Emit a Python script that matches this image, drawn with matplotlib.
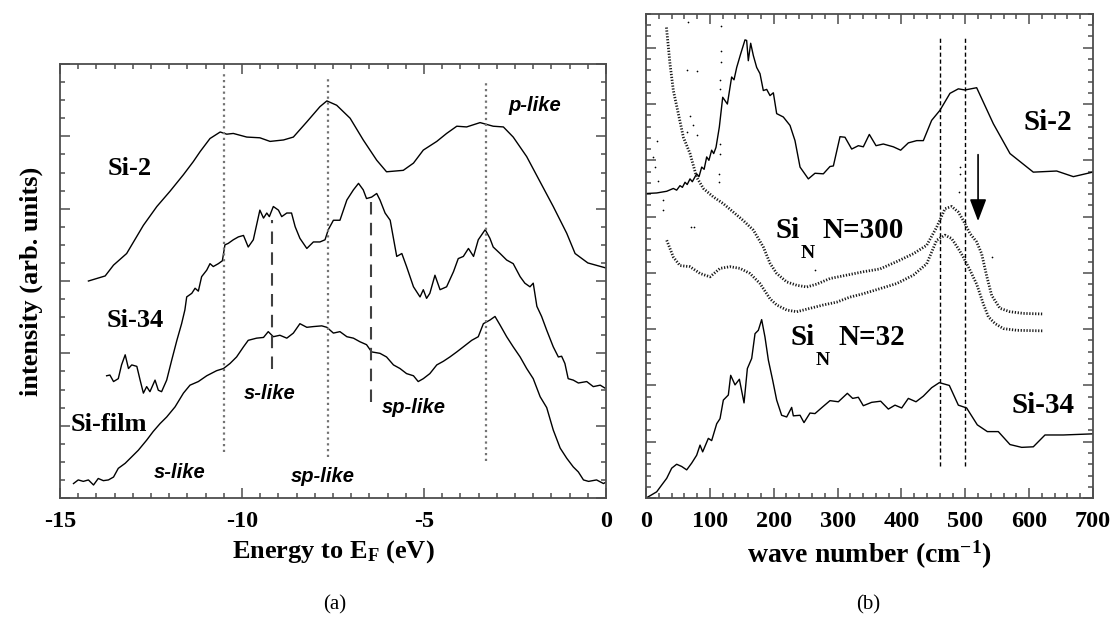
import numpy as np
import matplotlib
matplotlib.use("Agg")
import matplotlib.pyplot as plt
from matplotlib.ticker import MultipleLocator, NullFormatter

plt.rcParams["font.family"] = ["Liberation Serif", "DejaVu Serif"]
plt.rcParams["font.weight"] = "bold"
plt.rcParams["axes.unicode_minus"] = False
plt.rcParams["mathtext.fontset"] = "custom"
plt.rcParams["mathtext.rm"] = "Liberation Serif:bold"
plt.rcParams["mathtext.it"] = "Liberation Serif:bold"
plt.rcParams["mathtext.bf"] = "Liberation Serif:bold"

# ---------------- (a) photoemission spectra vs energy (eV) ----------------
si2_pts = [(-14.22, 3.00), (-13.76, 3.07), (-13.53, 3.22), (-13.17, 3.38), (-12.71, 3.77),
           (-12.34, 4.03), (-11.98, 4.24), (-11.61, 4.47), (-11.34, 4.65), (-11.15, 4.79),
           (-10.88, 4.97), (-10.60, 5.06), (-10.42, 5.03), (-10.24, 5.04), (-9.87, 4.99),
           (-9.51, 4.98), (-9.23, 4.93), (-8.86, 4.95), (-8.59, 4.99), (-8.22, 5.20),
           (-7.86, 5.41), (-7.67, 5.49), (-7.40, 5.43), (-7.03, 5.25), (-6.67, 4.95),
           (-6.30, 4.67), (-6.03, 4.51), (-5.57, 4.53), (-5.29, 4.63), (-5.02, 4.81),
           (-4.65, 4.93), (-4.38, 5.04), (-4.10, 5.14), (-3.83, 5.13), (-3.46, 5.19),
           (-3.10, 5.14), (-2.82, 5.13), (-2.55, 4.99), (-2.18, 4.72), (-1.81, 4.37),
           (-1.45, 4.03), (-1.08, 3.66), (-0.85, 3.38), (-0.50, 3.25), (0.0, 3.18)]

si34_pts = [(-13.72, 1.69), (-13.63, 1.70), (-13.53, 1.61), (-13.40, 1.65), (-13.31, 1.84),
            (-13.21, 1.98), (-13.12, 1.79), (-13.03, 1.84), (-12.89, 1.82), (-12.80, 1.63),
            (-12.71, 1.45), (-12.62, 1.54), (-12.53, 1.47), (-12.39, 1.63), (-12.30, 1.49),
            (-12.21, 1.47), (-12.07, 1.63), (-11.93, 1.91), (-11.79, 2.18), (-11.66, 2.41),
            (-11.57, 2.60), (-11.52, 2.78), (-11.38, 2.83), (-11.29, 2.90), (-11.20, 2.86),
            (-11.11, 3.06), (-10.97, 3.15), (-10.88, 3.24), (-10.79, 3.20), (-10.65, 3.24),
            (-10.54, 3.28), (-10.47, 3.50), (-10.38, 3.52), (-10.24, 3.57), (-10.10, 3.61),
            (-9.96, 3.63), (-9.83, 3.47), (-9.69, 3.57), (-9.51, 3.98), (-9.41, 3.87),
            (-9.32, 3.94), (-9.25, 3.89), (-9.14, 4.03), (-9.00, 3.98), (-8.91, 3.89),
            (-8.77, 3.94), (-8.64, 3.94), (-8.54, 3.75), (-8.41, 3.59), (-8.22, 3.45),
            (-8.04, 3.54), (-7.86, 3.54), (-7.72, 3.57), (-7.63, 3.71), (-7.49, 3.84),
            (-7.31, 3.84), (-7.12, 4.12), (-6.94, 4.26), (-6.80, 4.35), (-6.67, 4.26),
            (-6.58, 4.14), (-6.44, 4.16), (-6.30, 4.21), (-6.21, 4.12), (-6.07, 3.94),
            (-5.93, 3.84), (-5.75, 3.34), (-5.61, 3.38), (-5.48, 3.20), (-5.29, 2.92),
            (-5.11, 2.78), (-5.02, 2.88), (-4.93, 2.76), (-4.84, 2.83), (-4.70, 3.08),
            (-4.56, 2.88), (-4.38, 2.92), (-4.19, 3.13), (-4.06, 3.31), (-3.92, 3.34),
            (-3.78, 3.45), (-3.64, 3.34), (-3.51, 3.57), (-3.32, 3.71), (-3.19, 3.59),
            (-3.10, 3.47), (-2.91, 3.38), (-2.73, 3.29), (-2.55, 3.24), (-2.36, 3.06),
            (-2.23, 2.97), (-2.09, 2.92), (-2.00, 2.97), (-1.90, 2.65), (-1.77, 2.51),
            (-1.63, 2.32), (-1.45, 2.09), (-1.31, 1.95), (-1.22, 1.96), (-1.13, 1.86),
            (-1.04, 1.65), (-0.90, 1.63), (-0.76, 1.59), (-0.53, 1.61), (-0.35, 1.54),
            (-0.16, 1.56), (-0.03, 1.52)]

film_pts = [(-14.63, 0.20), (-14.50, 0.25), (-14.36, 0.23), (-14.22, 0.25), (-14.08, 0.18),
            (-13.95, 0.27), (-13.81, 0.24), (-13.67, 0.25), (-13.53, 0.29), (-13.40, 0.41),
            (-13.21, 0.48), (-13.03, 0.57), (-12.85, 0.66), (-12.62, 0.80), (-12.44, 0.92),
            (-12.25, 1.03), (-12.07, 1.12), (-11.84, 1.26), (-11.61, 1.45), (-11.43, 1.56),
            (-11.20, 1.61), (-10.97, 1.69), (-10.70, 1.76), (-10.51, 1.79), (-10.33, 1.86),
            (-10.15, 1.95), (-9.96, 2.09), (-9.83, 2.18), (-9.60, 2.21), (-9.41, 2.22),
            (-9.28, 2.30), (-9.14, 2.23), (-8.96, 2.25), (-8.77, 2.21), (-8.59, 2.28),
            (-8.41, 2.41), (-8.22, 2.36), (-8.04, 2.37), (-7.81, 2.38), (-7.67, 2.36),
            (-7.49, 2.28), (-7.31, 2.30), (-7.12, 2.23), (-6.94, 2.21), (-6.76, 2.16),
            (-6.58, 2.12), (-6.44, 2.02), (-6.21, 2.00), (-6.03, 1.95), (-5.84, 1.84),
            (-5.66, 1.79), (-5.48, 1.72), (-5.29, 1.69), (-5.16, 1.61), (-5.02, 1.65),
            (-4.84, 1.72), (-4.65, 1.84), (-4.47, 1.89), (-4.29, 1.95), (-4.10, 2.02),
            (-3.92, 2.09), (-3.69, 2.18), (-3.51, 2.23), (-3.37, 2.41), (-3.19, 2.46),
            (-3.05, 2.51), (-2.91, 2.39), (-2.73, 2.23), (-2.55, 2.09), (-2.36, 1.95),
            (-2.18, 1.79), (-2.00, 1.65), (-1.81, 1.40), (-1.63, 1.25), (-1.45, 0.94),
            (-1.26, 0.69), (-1.08, 0.55), (-0.90, 0.43), (-0.76, 0.36), (-0.62, 0.25),
            (-0.48, 0.23), (-0.26, 0.25), (-0.07, 0.20), (0.0, 0.22)]

# peak guides in (a)
peak_e = [-10.5, -7.65, -3.3]
peak_top = [5.88, 5.82, 5.75]
peak_bot = [0.64, 0.57, 0.51]
si34_e_marks = [-9.18, -6.47]
si34_mark_top = [3.84, 4.19]
si34_mark_bot = [1.79, 1.33]

# ---------------- (b) vibrational spectra vs wave number ----------------
si2r_pts = [(0, 5.41), (16.7, 5.42), (32.4, 5.45), (42.8, 5.50), (48.0, 5.47), (53.2, 5.55),
            (57.0, 5.52), (61.1, 5.61), (64.5, 5.57), (68.9, 5.67), (72.5, 5.62), (79.3, 5.76),
            (83.0, 5.71), (87.2, 5.88), (91.0, 5.84), (95.0, 6.06), (98.5, 6.00), (102.8, 6.18),
            (106.0, 6.12), (109.6, 6.23), (114.8, 6.59), (120.1, 7.12), (127.4, 7.00),
            (134.1, 7.48), (137.8, 7.43), (142.0, 7.65), (148.2, 7.89), (155.0, 8.14),
            (157.6, 8.13), (160.2, 7.77), (163.9, 8.08), (168.1, 7.86), (173.3, 7.65),
            (178.5, 7.54), (183.7, 7.24), (189.0, 7.26), (194.2, 7.15), (199.4, 7.20),
            (204.6, 6.83), (215.0, 6.77), (225.5, 6.62), (233.3, 6.35), (241.2, 5.88),
            (254.2, 5.67), (264.6, 5.77), (277.7, 5.76), (288.1, 5.89), (293.4, 5.90),
            (303.8, 6.42), (311.6, 6.41), (322.1, 6.20), (332.5, 6.26), (340.3, 6.24),
            (349.7, 6.46), (360.2, 6.26), (371.6, 6.29), (387.3, 6.24), (398.8, 6.18),
            (410.8, 6.31), (423.9, 6.35), (434.3, 6.35), (447.3, 6.71), (460.4, 6.89),
            (476.0, 7.19), (489.1, 7.27), (499.5, 7.25), (517.8, 7.29), (543.9, 6.65),
            (570.0, 6.12), (606.5, 5.79), (643.1, 5.81), (669.2, 5.71), (699.5, 5.79)]

si34r_pts = [(0, 0.0), (6.3, 0.04), (16.7, 0.11), (24.5, 0.23), (32.4, 0.35), (40.2, 0.53),
             (48.0, 0.60), (55.9, 0.56), (63.7, 0.50), (71.5, 0.62), (79.3, 0.76), (84.6, 0.94),
             (88.7, 0.82), (97.6, 1.06), (102.8, 1.02), (110.7, 1.32), (115.9, 1.41),
             (121.1, 1.74), (128.9, 1.83), (132.6, 2.18), (139.4, 2.01), (146.2, 2.11),
             (153.5, 1.69), (158.7, 2.30), (165.5, 2.48), (170.7, 2.92), (175.9, 2.98),
             (181.1, 3.17), (186.3, 2.86), (191.6, 2.45), (198.4, 2.09), (204.6, 1.74),
             (212.4, 1.47), (220.3, 1.44), (228.1, 1.61), (230.7, 1.46), (241.2, 1.47),
             (247.4, 1.34), (256.8, 1.51), (264.6, 1.50), (276.7, 1.62), (288.1, 1.73),
             (301.2, 1.71), (315.3, 1.86), (323.6, 1.77), (332.5, 1.79), (340.3, 1.64),
             (353.4, 1.70), (367.5, 1.72), (379.5, 1.58), (389.9, 1.65), (400.4, 1.60),
             (410.8, 1.77), (422.8, 1.71), (434.3, 1.81), (447.3, 1.96), (459.3, 2.05),
             (475.0, 2.00), (489.1, 1.65), (502.1, 1.60), (518.8, 1.30), (534.5, 1.18),
             (551.7, 1.18), (570.0, 0.95), (588.3, 0.90), (606.5, 0.91), (624.8, 1.12),
             (653.5, 1.12), (699.5, 1.14)]

n300_pts = [(32.0, 8.36), (37.6, 7.71), (42.8, 7.24), (50.6, 6.83), (58.5, 6.41), (68.9, 6.12),
            (79.3, 5.70), (89.8, 5.50), (105.4, 5.35), (121.1, 5.23), (136.7, 5.08),
            (152.4, 4.93), (168.1, 4.76), (183.7, 4.46), (194.2, 4.17), (204.6, 3.99),
            (220.3, 3.84), (236.0, 3.78), (251.6, 3.75), (267.3, 3.80), (288.1, 3.90),
            (314.2, 3.96), (340.3, 4.02), (366.4, 4.07), (392.5, 4.20), (418.6, 4.34),
            (439.5, 4.49), (455.1, 4.81), (468.2, 5.14), (478.6, 5.18), (489.1, 5.08),
            (496.9, 4.93), (507.3, 4.70), (517.8, 4.55), (525.6, 4.34), (533.4, 3.95),
            (541.3, 3.60), (554.3, 3.37), (570.0, 3.31), (590.9, 3.28), (621.2, 3.27)]

n32_pts = [(32.4, 4.58), (42.8, 4.28), (53.2, 4.13), (68.9, 4.11), (84.6, 3.99), (100.2, 3.93),
           (115.9, 4.08), (131.5, 4.11), (147.2, 4.08), (162.8, 3.99), (178.5, 3.81),
           (189.0, 3.63), (194.2, 3.54), (204.6, 3.43), (220.3, 3.34), (236.0, 3.31),
           (256.8, 3.37), (277.7, 3.43), (298.5, 3.48), (319.4, 3.57), (340.3, 3.63),
           (366.4, 3.72), (392.5, 3.81), (418.6, 3.96), (439.5, 4.16), (455.1, 4.58),
           (468.2, 4.67), (478.6, 4.61), (489.1, 4.43), (496.9, 4.28), (507.3, 4.05),
           (517.8, 3.80), (528.2, 3.45), (536.1, 3.22), (546.5, 3.10), (559.6, 3.01),
           (580.5, 2.98), (621.2, 2.97)]

stray_x = [63.7, 79.3, 68.9, 74.1, 63.7, 79.3, 116.9, 116.9, 116.9, 116.5, 116.2, 116.0,
           115.5, 115.0, 114.5, 66.0, 27.2, 27.2, 16.7, 11.5, 14.1, 19.3, 70.4, 75.6,
           491.7, 491.7, 490.9, 264.6, 541.3]
stray_y = [7.60, 7.58, 6.78, 6.62, 6.51, 6.45, 8.39, 7.95, 7.74, 7.42, 7.27, 6.29,
           6.12, 5.76, 5.61, 8.45, 5.29, 5.11, 6.35, 6.06, 5.88, 5.64, 4.81, 4.81,
           5.88, 5.76, 5.44, 4.05, 4.28]

mode_k = [460, 500]
mode_top = 8.18
mode_bot = 0.57


def xy(pts):
    a = np.array(pts, dtype=float)
    return a[:, 0], a[:, 1]


def style_axes(ax):
    for sp in ax.spines.values():
        sp.set_color("0.3")
        sp.set_linewidth(1.3)
    ax.tick_params(which="both", direction="in", top=True, right=True,
                   color="0.3", width=1.1, labelleft=False)
    ax.tick_params(which="major", length=7.5, pad=9, labelsize=17.5)
    ax.tick_params(which="minor", length=3.6)
    ax.yaxis.set_major_formatter(NullFormatter())


fig = plt.figure(figsize=(11.2, 6.3), dpi=100)
axa = fig.add_axes([0.0536, 0.2095, 0.4875, 0.6889])
axb = fig.add_axes([0.5768, 0.2095, 0.3991, 0.7683])

# ---- panel (a) ----
for pts in (si2_pts, si34_pts, film_pts):
    e, i = xy(pts)
    axa.plot(e, i, color="black", lw=1.0)

for x, t, b in zip(peak_e, peak_top, peak_bot):
    axa.plot([x, x], [b, t], color="0.45", lw=1.6, ls=(0, (1, 1.6)))
for x, t, b in zip(si34_e_marks, si34_mark_top, si34_mark_bot):
    axa.plot([x, x], [b, t], color="0.25", lw=1.5, ls=(0, (6, 4)))

axa.set_xlim(-15, 0)
axa.set_ylim(0, 6)
axa.xaxis.set_major_locator(MultipleLocator(5))
axa.xaxis.set_minor_locator(MultipleLocator(0.5))
axa.yaxis.set_major_locator(MultipleLocator(1))
axa.yaxis.set_minor_locator(MultipleLocator(0.25))
style_axes(axa)

lbl = dict(fontsize=19, fontweight="bold", ha="center", va="center")
axa.text(-13.08, 4.56, "Si-2", **lbl)
axa.text(-12.94, 2.45, "Si-34", **lbl)
axa.text(-13.65, 1.02, "Si-film", **lbl)

orb = dict(family="Liberation Sans", fontsize=14.5, fontweight="bold", style="italic",
           ha="center", va="center")
axa.text(-1.95, 5.43, "p-like", **orb)
axa.text(-9.25, 1.44, "s-like", **orb)
axa.text(-5.27, 1.25, "sp-like", **orb)
axa.text(-11.72, 0.35, "s-like", **orb)
axa.text(-7.78, 0.30, "sp-like", **orb)

axa.set_xlabel(r"Energy to E$_{\mathrm{F}}$ (eV)", fontsize=19, fontweight="bold", labelpad=5)
axa.set_ylabel("intensity (arb. units)", fontsize=19, fontweight="bold", labelpad=12)

# ---- panel (b) ----
for pts in (si2r_pts, si34r_pts):
    k, i = xy(pts)
    axb.plot(k, i, color="black", lw=1.0)

# cluster spectra: dense dotted traces
for pts in (n300_pts, n32_pts):
    k, i = xy(pts)
    axb.plot(k, i, color="0.1", lw=2.0, ls=(0, (0.45, 0.6)))
axb.scatter(stray_x, stray_y, s=1.5, color="black", lw=0)

axb.vlines(mode_k, mode_bot, mode_top, colors="black", lw=1.0, linestyles=(0, (3, 2)))
axb.annotate("", xy=(520, 4.87), xytext=(520, 6.15),
             arrowprops=dict(arrowstyle="-|>,head_length=0.45,head_width=0.17",
                             mutation_scale=30, lw=1.2, color="black"))

axb.set_xlim(0, 700)
axb.set_ylim(0, 8.6)
axb.xaxis.set_major_locator(MultipleLocator(100))
axb.xaxis.set_minor_locator(MultipleLocator(20))
axb.yaxis.set_major_locator(MultipleLocator(1))
axb.yaxis.set_minor_locator(MultipleLocator(0.2))
style_axes(axb)

big = dict(fontsize=21, fontweight="bold", va="center")
axb.text(630, 6.68, "Si-2", ha="center", **big)
axb.text(622, 1.65, "Si-34", ha="center", **big)
axb.text(203, 4.76, "Si", ha="left", **big)
axb.text(242, 4.35, "N", ha="left", fontsize=14, fontweight="bold", va="center")
axb.text(276, 4.76, "N=300", ha="left", **big)
axb.text(227, 2.86, "Si", ha="left", **big)
axb.text(266, 2.45, "N", ha="left", fontsize=14, fontweight="bold", va="center")
axb.text(302, 2.86, "N=32", ha="left", **big)

axb.set_xlabel(r"wave number (cm$^{\mathrm{-1}}$)", fontsize=20, fontweight="bold", labelpad=5)

fig.text(0.299, 0.040, "(a)", fontsize=15, fontweight="normal", ha="center", va="center")
fig.text(0.775, 0.040, "(b)", fontsize=15, fontweight="normal", ha="center", va="center")

fig.savefig("out.png", dpi=100)
